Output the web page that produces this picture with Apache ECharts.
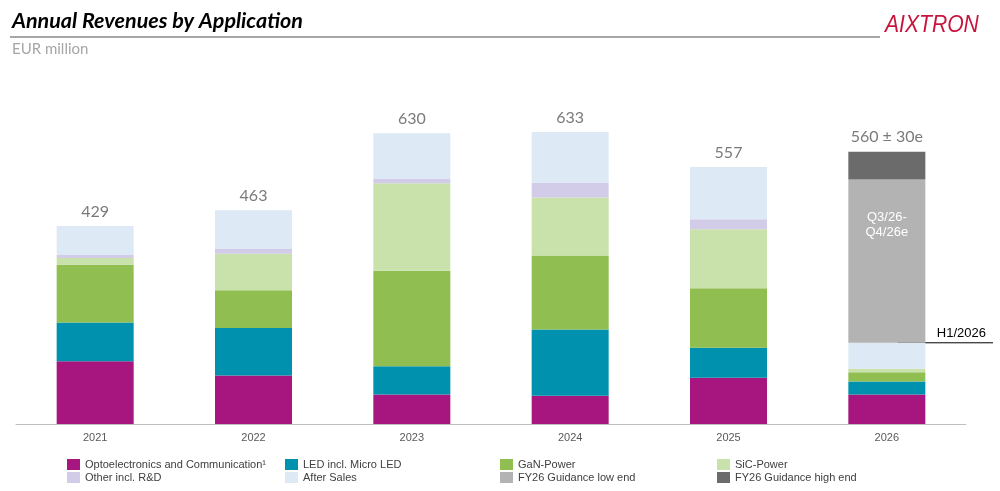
<!DOCTYPE html>
<html>
<head>
<meta charset="utf-8">
<script src="https://cdn.jsdelivr.net/npm/echarts@6/dist/echarts.min.js"></script>
<style>
  html, body { margin: 0; padding: 0; background: #fff; }
  #chart { width: 1000px; height: 491px; }
</style>
</head>
<body>
<div id="chart"></div>
<script>
// values in EUR million
const years = ['2021', '2022', '2023', '2024', '2025', '2026'];
const opto = [136, 105, 64, 61, 100, 64];
const led = [84, 103, 61, 144, 65, 28];
const gan = [125, 82, 207, 160, 129, 20];
const sic = [15, 79, 190, 126, 128, 8];
const other = [6, 10, 9, 32, 22, 0];
const afterSales = [63, 84, 99, 110, 113, 56];
const guidanceLow = [null, null, null, null, null, 354];
const guidanceHigh = [null, null, null, null, null, 60];
const totalLabels = ['429', '463', '630', '633', '557', '560 ± 30e'];

const chart = echarts.init(document.getElementById('chart'));

const totals = years.map((_, i) =>
  [opto, led, gan, sic, other, afterSales, guidanceLow, guidanceHigh]
    .reduce((s, arr) => s + (arr[i] || 0), 0)
);
const h1Total = opto[5] + led[5] + gan[5] + sic[5] + other[5] + afterSales[5];

const legendText = { fontFamily: 'Liberation Sans', fontSize: 11, color: '#404040' };

function barSeries(name, data, color) {
  return {
    name: name,
    type: 'bar',
    stack: 'rev',
    barWidth: 77,
    data: data,
    itemStyle: { color: color },
    emphasis: { disabled: true }
  };
}

function legendCol(left, names) {
  return {
    orient: 'vertical',
    left: left,
    top: 459,
    itemWidth: 13,
    itemHeight: 11,
    itemGap: 2,
    padding: 0,
    icon: 'rect',
    textStyle: legendText,
    selectedMode: false,
    data: names
  };
}

const option = {
  animation: false,
  grid: { left: 16, right: 34, top: 101, bottom: 67 },
  legend: [
    legendCol(67, ['Optoelectronics and Communication¹', 'Other incl. R&D']),
    legendCol(285, ['LED incl. Micro LED', 'After Sales']),
    legendCol(500, ['GaN-Power', 'FY26 Guidance low end']),
    legendCol(717, ['SiC-Power', 'FY26 Guidance high end'])
  ],
  xAxis: {
    type: 'category',
    data: years,
    axisTick: { show: false },
    axisLine: { lineStyle: { color: '#bfbfbf', width: 1 } },
    axisLabel: { color: '#595959', fontFamily: 'Liberation Sans', fontSize: 11, margin: 8 }
  },
  yAxis: {
    type: 'value',
    min: 0,
    max: 700,
    show: false,
    splitLine: { show: false }
  },
  series: [
    barSeries('Optoelectronics and Communication¹', opto, '#a6167e'),
    barSeries('LED incl. Micro LED', led, '#0091ae'),
    barSeries('GaN-Power', gan, '#90be50'),
    barSeries('SiC-Power', sic, '#c9e1ab'),
    barSeries('Other incl. R&D', other, '#d3cce8'),
    barSeries('After Sales', afterSales, '#dde9f5'),
    Object.assign(barSeries('FY26 Guidance low end', guidanceLow, '#b3b3b3'), {
      label: {
        show: true,
        position: 'insideTop',
        distance: 30,
        formatter: 'Q3/26-\nQ4/26e',
        color: '#ffffff',
        fontFamily: 'Liberation Sans',
        fontSize: 13,
        lineHeight: 15
      }
    }),
    barSeries('FY26 Guidance high end', guidanceHigh, '#6b6b6b'),
    {
      name: 'total',
      type: 'scatter',
      data: totals,
      symbolSize: 1,
      itemStyle: { color: 'rgba(0,0,0,0)' },
      silent: true,
      label: {
        show: true,
        position: 'top',
        distance: 6,
        formatter: p => totalLabels[p.dataIndex],
        color: '#595959',
        fontFamily: 'Lato',
        fontSize: 16
      }
    }
  ]
};

chart.setOption(option);

// H1 marker line at the top of the first half of 2026
const h1Pt = chart.convertToPixel({ gridIndex: 0 }, ['2026', h1Total]);

chart.setOption({
  graphic: [
    {
      type: 'text',
      left: 12,
      top: 10,
      style: {
        text: 'Annual Revenues by Application',
        font: 'italic bold 21.5px Lato',
        fill: '#000000'
      }
    },
    {
      type: 'line',
      shape: { x1: 10, y1: 37, x2: 880, y2: 37 },
      style: { stroke: '#a6a6a6', lineWidth: 2 }
    },
    {
      type: 'text',
      left: 12,
      top: 42,
      style: {
        text: 'EUR million',
        font: '15px Lato',
        fill: '#a6a6a6'
      }
    },
    {
      type: 'text',
      x: 885,
      y: 13,
      scaleX: 0.88,
      style: {
        text: 'AIXTRON',
        font: 'italic 24px "Liberation Sans"',
        fill: '#c8143c'
      }
    },
    {
      type: 'line',
      shape: { x1: h1Pt[0] + 11, y1: h1Pt[1], x2: 993, y2: h1Pt[1] },
      style: { stroke: '#000000', lineWidth: 1 }
    },
    {
      type: 'text',
      x: 986,
      y: h1Pt[1] - 3,
      style: {
        text: 'H1/2026',
        font: '13px "Liberation Sans"',
        fill: '#000000',
        align: 'right',
        verticalAlign: 'bottom'
      }
    }
  ]
});
</script>
</body>
</html>
